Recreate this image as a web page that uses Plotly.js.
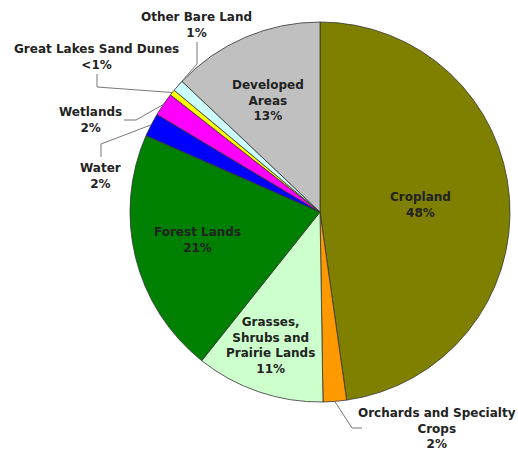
<!DOCTYPE html>
<html><head><meta charset="utf-8">
<script src="https://cdn.plot.ly/plotly-3.0.1.min.js"></script>
<style>html,body{margin:0;padding:0;background:#fff}#chart{width:518px;height:455px}</style>
</head><body><div id="chart"></div>
<script>
// Data (clockwise from 12 o'clock)
const categories = ["Cropland","Orchards and Specialty Crops","Grasses, Shrubs and Prairie Lands","Forest Lands","Water","Wetlands","Great Lakes Sand Dunes","Other Bare Land","Developed Areas"];
const values = [48, 2, 11, 21, 2, 2, 0.5, 1, 13];
const pctLabels = ["48%","2%","11%","21%","2%","2%","<1%","1%","13%"];
const displayNames = ["Cropland","Orchards and Specialty<br>Crops","Grasses,<br>Shrubs and<br>Prairie Lands","Forest Lands","Water","Wetlands","Great Lakes Sand Dunes","Other Bare Land","Developed<br>Areas"];
const colors = ["#808000","#FF9900","#CCFFCC","#008000","#0000FF","#FF00FF","#FFFF00","#CCFFFF","#C0C0C0"];

const W = 518, H = 455;
const cx = 320, cy = 212, R = 190;
const px = x => x / W, py = y => 1 - y / H;

// label layout (pixel positions) and leader elbows
const labelPos = [[420,205],[437,428],[270,345],[197,239.5],[100,176],[90,120],[96,57],[196,24.5],[268,100]];
const leaders = {
  1: {from:"edge", pts:[[352,428],[362,428]]},
  4: {pts:[[101,157],[101,144]]},
  5: {pts:[[124,120],[136,120]]},
  6: {pts:[[97,74],[97,87]]},
  7: {pts:[[197,42],[197,64]]}
};

const total = values.reduce((a,b)=>a+b,0);
let cum = 0;
const mids = values.map(v => { const m = cum + v/2; cum += v; return m/total*2*Math.PI; });
const edgePt = i => [cx + R*Math.sin(mids[i]), cy - R*Math.cos(mids[i])];

const font = {family:"DejaVu Sans", size:12, color:"#222", weight:"bold"};
const annotations = categories.map((c,i)=>({
  x: px(labelPos[i][0]), y: py(labelPos[i][1]), xref:"paper", yref:"paper",
  text: displayNames[i] + "<br>" + pctLabels[i], showarrow:false,
  xanchor:"center", yanchor:"middle", align:"center", font: font
}));

const shapes = [];
Object.keys(leaders).forEach(k => {
  const i = +k, L = leaders[k], e = edgePt(i);
  const pts = L.from === "edge" ? [e, ...L.pts] : [...L.pts, e];
  const d = pts.map((p,j)=>(j?"L":"M")+px(p[0]).toFixed(5)+","+py(p[1]).toFixed(5)).join(" ");
  shapes.push({type:"path", xref:"paper", yref:"paper", path:d, line:{color:"#777", width:1}});
});

const trace = {
  type:"pie", labels:categories, values:values, sort:false, direction:"clockwise", rotation:0,
  marker:{colors:colors, line:{color:"#333", width:0.8}},
  textinfo:"none", hoverinfo:"none",
  domain:{x:[px(cx-R), px(cx+R)], y:[py(cy+R), py(cy-R)]}
};

Plotly.newPlot("chart", [trace], {
  width:W, height:H, margin:{l:0,r:0,t:0,b:0}, showlegend:false,
  paper_bgcolor:"#fff", annotations:annotations, shapes:shapes
}, {displayModeBar:false, staticPlot:true});
</script></body></html>
